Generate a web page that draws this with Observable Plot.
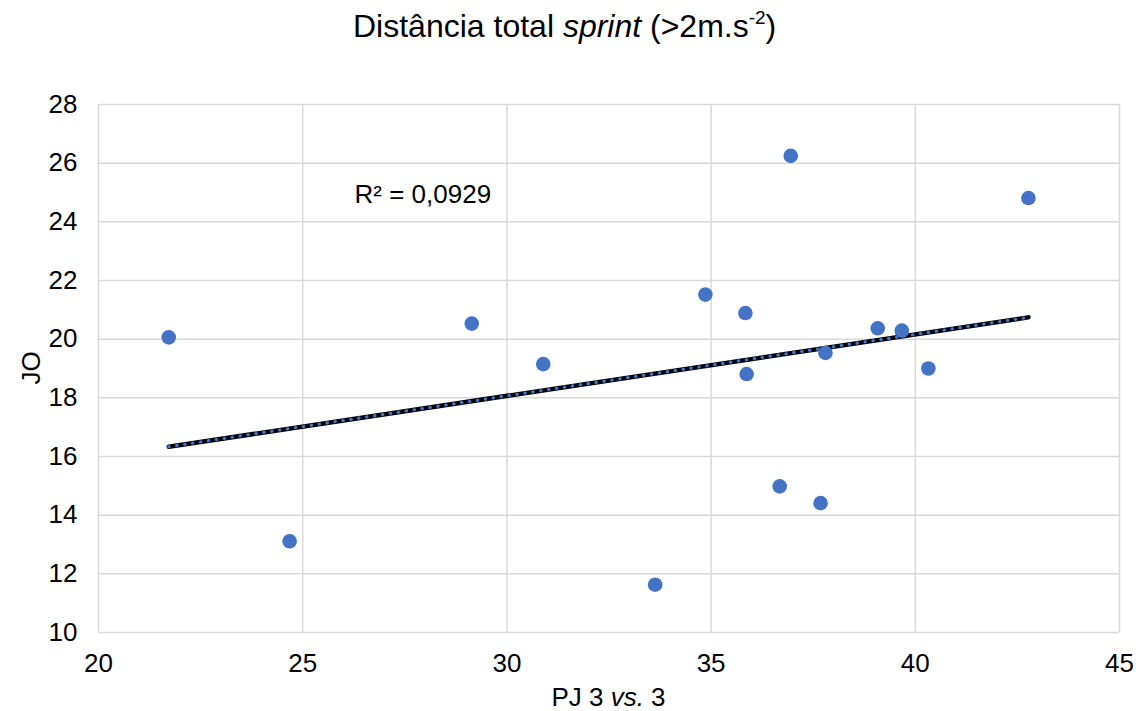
<!DOCTYPE html>
<html>
<head>
<meta charset="utf-8">
<script src="https://cdn.jsdelivr.net/npm/d3@7"></script>
<script src="https://cdn.jsdelivr.net/npm/@observablehq/plot@0.6"></script>
<style>
  html, body { margin: 0; padding: 0; background: #fff; }
  #wrap { position: relative; width: 1143px; height: 711px; font-family: "Liberation Sans", Arial, sans-serif; color: #000; }
  #title { position: absolute; left: 353px; top: 6px; font-size: 32px; white-space: nowrap; line-height: 40px; }
  #title sup { font-size: 19px; vertical-align: 0; position: relative; top: -13px; }
  #xlabel { position: absolute; left: 0; width: 1217px; text-align: center; top: 682px; font-size: 26px; line-height: 30px; }
  #ylabel { position: absolute; left: 31px; top: 368px; font-size: 26px; line-height: 30px; transform: translate(-50%, -50%) rotate(-90deg); white-space: nowrap; }
  #chart { position: absolute; left: 0; top: 0; }
</style>
</head>
<body>
<div id="wrap">
  <div id="chart"></div>
  <div id="title">Distância total <i>sprint</i> (&gt;2m.s<sup>-2</sup>)</div>
  <div id="ylabel">JO</div>
  <div id="xlabel">PJ 3 <i>vs.</i> 3</div>
</div>
<script>
// Data
const pj3v3 = [21.72, 24.68, 29.14, 30.89, 33.63, 34.86, 35.84, 35.87, 36.68, 36.95, 37.68, 37.80, 39.08, 39.67, 40.32, 42.77];
const jo    = [20.06, 13.11, 20.53, 19.15, 11.63, 21.52, 20.89, 18.81, 14.98, 26.25, 14.41, 19.53, 20.37, 20.29, 19.00, 24.81];
const xTicks = [20, 25, 30, 35, 40, 45];
const yTicks = [10, 12, 14, 16, 18, 20, 22, 24, 26, 28];
const r2Label = ["R² = 0,0929"];

const data = pj3v3.map((x, i) => ({x, y: jo[i]}));

const chart = Plot.plot({
  width: 1143,
  height: 711,
  marginLeft: 98,
  marginRight: 24,
  marginTop: 104,
  marginBottom: 79,
  style: {fontFamily: "'Liberation Sans', Arial, sans-serif", color: "#000", background: "#fff"},
  x: {domain: [20, 45]},
  y: {domain: [10, 28]},
  marks: [
    Plot.ruleX(xTicks, {stroke: "#d9d9d9", strokeWidth: 1.5}),
    Plot.ruleY(yTicks, {stroke: "#d9d9d9", strokeWidth: 1.5}),
    Plot.axisX(xTicks, {tickSize: 0, tickPadding: 21, fontSize: 26, label: null}),
    Plot.axisY(yTicks, {tickSize: 0, tickPadding: 21, fontSize: 26, label: null}),
    Plot.linearRegressionY(data, {x: "x", y: "y", ci: 0, stroke: "#000", strokeWidth: 4.5}),
    Plot.linearRegressionY(data, {x: "x", y: "y", ci: 0, stroke: "#4472C4", strokeWidth: 3.2, strokeDasharray: "0.5,7.5", strokeLinecap: "round"}),
    Plot.dot(data, {x: "x", y: "y", r: 7.3, fill: "#4472C4", stroke: "none"}),
    Plot.text(r2Label, {frameAnchor: "top-left", dx: 256, dy: 80, fontSize: 26, textAnchor: "start", fill: "#000"})
  ]
});
document.getElementById("chart").appendChild(chart);
</script>
</body>
</html>
